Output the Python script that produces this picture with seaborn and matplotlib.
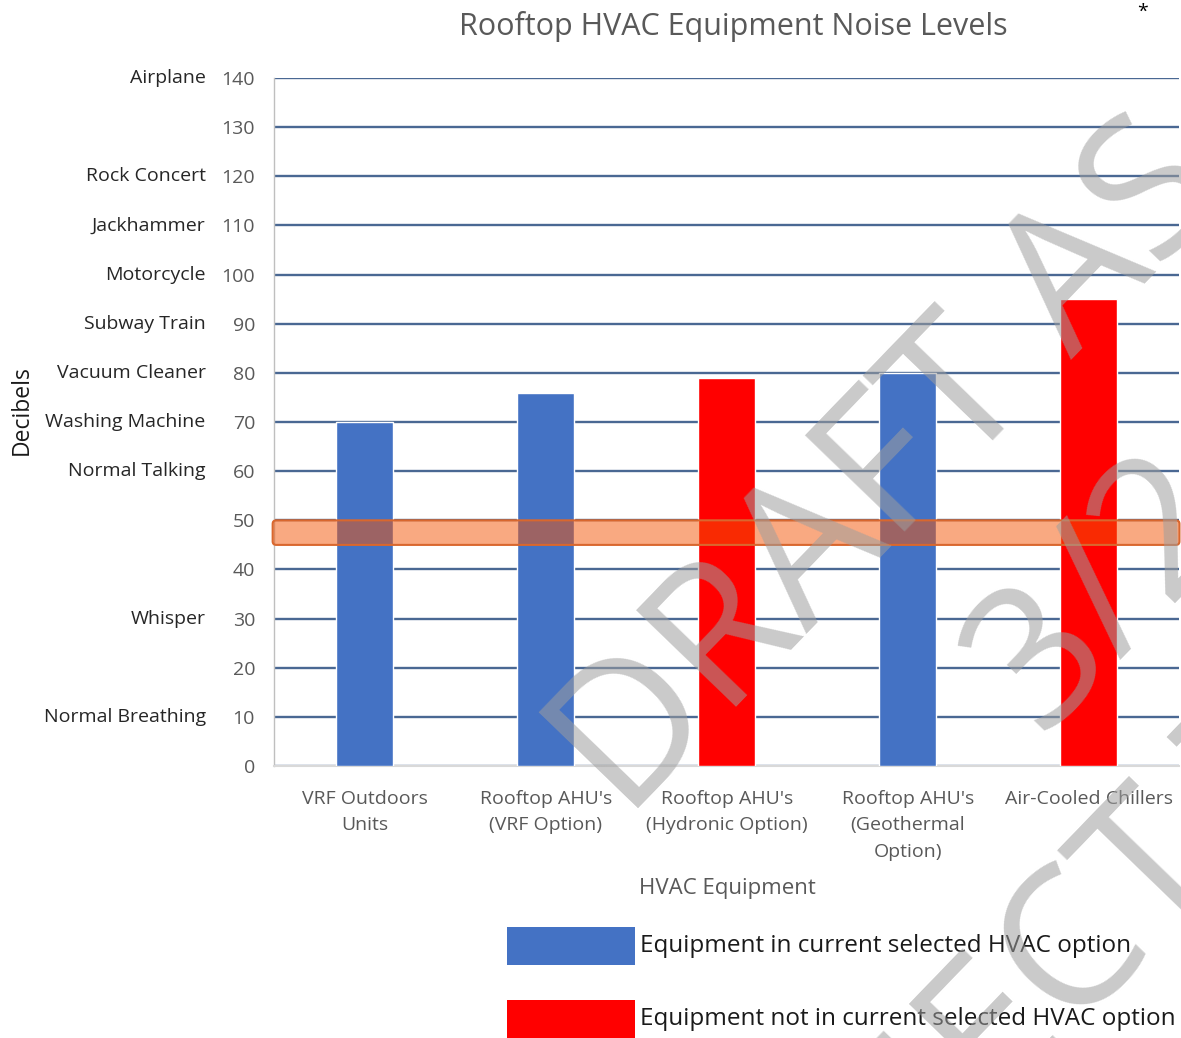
import matplotlib
matplotlib.use("Agg")
import matplotlib.pyplot as plt
import seaborn as sns
import pandas as pd
from matplotlib.patches import FancyBboxPatch, Rectangle
from matplotlib.transforms import blended_transform_factory

# chart data
equipment = ["VRF Outdoors\nUnits", "Rooftop AHU's\n(VRF Option)", "Rooftop AHU's\n(Hydronic Option)",
             "Rooftop AHU's\n(Geothermal\nOption)", "Air-Cooled Chillers"]
decibels = [70, 76, 79, 80, 95]
status = ["in", "in", "not", "in", "not"]
status_colors = {"in": "#4472C4", "not": "#FF0000"}
legend_labels = ["Equipment in current selected HVAC option",
                 "Equipment not in current selected HVAC option"]

y_ticks = list(range(0, 141, 10))
noise_refs = {140: "Airplane", 120: "Rock Concert", 110: "Jackhammer", 100: "Motorcycle",
              90: "Subway Train", 80: "Vacuum Cleaner", 70: "Washing Machine",
              60: "Normal Talking", 30: "Whisper", 10: "Normal Breathing"}
target_band = (45, 50)

sns.set_style("white")
plt.rcParams["font.family"] = ["Open Sans", "DejaVu Sans"]

df = pd.DataFrame({"equipment": equipment, "decibels": decibels, "status": status})

fig = plt.figure(figsize=(11.81, 10.38), dpi=100)
ax = fig.add_axes([0.2324, 0.262, 0.7663, 0.6628])

sns.barplot(data=df, x="equipment", y="decibels", hue="status", palette=status_colors,
            dodge=False, width=0.315, legend=False, saturation=1, ax=ax, zorder=3)

ax.set_ylim(0, 140)
ax.set_xlim(-0.5, 4.5)
ax.set_yticks(y_ticks)
ax.set_yticklabels([str(t) for t in y_ticks], color="#595959", fontsize=14)
ax.tick_params(axis="y", length=0, pad=14)
ax.tick_params(axis="x", length=0, pad=17, labelsize=14, labelcolor="#595959")
for lab in ax.get_xticklabels():
    lab.set_linespacing(1.62)
    lab.set_verticalalignment("top")

ax.set_axisbelow(True)
ax.yaxis.grid(True, color="#4A6893", linewidth=1.7)
for s in ["top", "right"]:
    ax.spines[s].set_visible(False)
ax.spines["left"].set_color("#BFBFBF")
ax.spines["left"].set_linewidth(1)
ax.spines["bottom"].set_color("#D9D9D9")
ax.spines["bottom"].set_linewidth(1.5)

ax.set_xlabel("HVAC Equipment", color="#595959", fontsize=16, labelpad=12)
ax.set_ylabel("")

# reference sound labels beside the tick numbers
trans = blended_transform_factory(ax.transAxes, ax.transData)
for val, name in noise_refs.items():
    ax.text(-0.076, val, name, transform=trans, ha="right", va="center",
            fontsize=14, color="#262626")

fig.text(22 / 1181, 1 - 410 / 1038, "Decibels", rotation=90, ha="center", va="center",
         fontsize=16.5, color="#1a1a1a")

# target range band
band = FancyBboxPatch((-0.51, target_band[0]), 5.01, target_band[1] - target_band[0],
                      boxstyle="round,pad=0,rounding_size=0.02", mutation_aspect=36,
                      facecolor=(245 / 255, 85 / 255, 5 / 255, 0.5), edgecolor="#D9672E",
                      linewidth=1.5, zorder=4, clip_on=False)
ax.add_patch(band)

fig.text(733 / 1181, 1 - 27 / 1038, "Rooftop HVAC Equipment Noise Levels", ha="center",
         va="center", fontsize=22, color="#595959")
fig.text(1143 / 1181, 1 - 12 / 1038, "*", ha="center", va="center", fontsize=14, color="black")

# legend boxes
for i, (key, label) in enumerate(zip(["in", "not"], legend_labels)):
    top = 927 + i * 73
    fig.add_artist(Rectangle((507 / 1181, 1 - (top + 38) / 1038), 128 / 1181, 38 / 1038,
                             transform=fig.transFigure, facecolor=status_colors[key],
                             edgecolor="none"))
    fig.text(640 / 1181, 1 - (top + 19) / 1038, label, ha="left", va="center",
             fontsize=17.5, color="#1a1a1a")

# draft watermark
wm = dict(rotation=46, rotation_mode="anchor", ha="left", va="baseline", fontsize=140,
          color=(0.62, 0.62, 0.62), alpha=0.55, fontweight=500, zorder=20)
fig.text(626 / 1181, 1 - 822 / 1038, "DRAFT AS OF", **wm)
fig.text(1040 / 1181, 1 - 735 / 1038, "3/2/2021", **wm)
fig.text(700 / 1181, 1 - 1420 / 1038, "SUBJECT TO CHANGE", **wm)

fig.savefig("out.png", dpi=100)
